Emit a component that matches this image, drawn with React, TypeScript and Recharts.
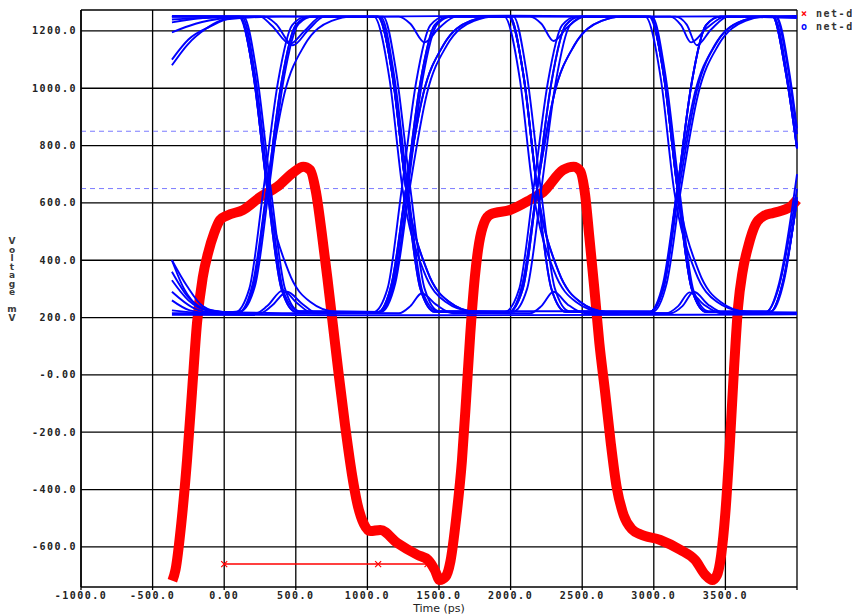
import { LineChart, Line, XAxis, YAxis, CartesianGrid } from 'recharts';

type P = [number, number];

// time ticks (ps) and voltage ticks (mV)
const X_TICKS = [-1000, -500, 0, 500, 1000, 1500, 2000, 2500, 3000, 3500, 4000];
const Y_TICKS = [-600, -400, -200, 0, 200, 400, 600, 800, 1000, 1200];
const THRESHOLDS = [850, 650];

// red trace (net-d...)
const RED: P[] = [
  [-362, -718], [-340, -680], [-300, -520], [-260, -300], [-225, -60], [-190, 180], [-150, 340],
  [-110, 430], [-70, 495], [-30, 540], [20, 556], [130, 575], [250, 620], [370, 656], [480, 705],
  [552, 726], [600, 715], [640, 640], [680, 500], [720, 340], [760, 170], [800, 0], [845, -180],
  [890, -340], [930, -450], [975, -520], [1020, -545], [1090, -541], [1210, -587], [1350, -628],
  [1425, -646], [1470, -680], [1505, -716], [1545, -705], [1580, -650], [1620, -500], [1660, -300],
  [1690, -80], [1718, 140], [1750, 340], [1780, 460], [1815, 530], [1860, 560], [2000, 576],
  [2137, 611], [2228, 638], [2367, 715], [2440, 726], [2485, 712], [2520, 630], [2550, 480],
  [2585, 300], [2620, 110], [2660, -60], [2700, -240], [2740, -390], [2790, -490], [2850, -540],
  [2905, -556], [3045, -576], [3184, -610], [3289, -646], [3360, -698], [3408, -716], [3440, -700],
  [3470, -630], [3500, -480], [3530, -250], [3560, 20], [3589, 240], [3620, 360], [3660, 450],
  [3710, 525], [3770, 555], [3834, 565], [3953, 586], [4000, 611],
];
const RED_MARK: P[] = [[0, -660], [1075, -660], [1420, -660]];

// blue eye segments: F fast fall, f slow fall, R fast rise, r slow rise, D dip at high, B bump at low
const F1: P[] = [[110, 1250], [200, 1060], [300, 650], [400, 300], [500, 220]];
const f1: P[] = [[100, 1250], [210, 1030], [300, 650], [450, 360], [600, 255], [780, 220]];
const R1: P[] = [[100, 218], [200, 300], [300, 650], [400, 1020], [500, 1220], [600, 1250]];
const r1: P[] = [[100, 218], [200, 320], [300, 650], [420, 980], [560, 1150], [750, 1235], [900, 1250]];
const D1: P[] = [[250, 1250], [330, 1220], [460, 1155], [560, 1200], [680, 1250]];
const B1: P[] = [[250, 215], [330, 240], [440, 290], [540, 250], [650, 215]];

const F2: P[] = [[1080, 1250], [1170, 1060], [1270, 650], [1370, 300], [1470, 220]];
const f2: P[] = [[1070, 1250], [1180, 1030], [1270, 650], [1420, 360], [1570, 255], [1750, 220]];
const R2: P[] = [[1070, 218], [1170, 300], [1270, 650], [1370, 1020], [1470, 1220], [1570, 1250]];
const r2: P[] = [[1070, 218], [1170, 320], [1270, 650], [1390, 980], [1530, 1150], [1720, 1235], [1870, 1250]];
const D2: P[] = [[1220, 1250], [1300, 1225], [1400, 1160], [1500, 1210], [1620, 1250]];
const B2: P[] = [[1220, 215], [1300, 240], [1380, 285], [1480, 245], [1600, 215]];

const F3: P[] = [[1995, 1250], [2085, 1060], [2185, 650], [2285, 300], [2385, 220]];
const f3: P[] = [[1985, 1250], [2095, 1030], [2185, 650], [2335, 360], [2485, 255], [2665, 220]];
const R3: P[] = [[1985, 218], [2085, 300], [2185, 650], [2285, 1020], [2385, 1220], [2485, 1250]];
const r3: P[] = [[1985, 218], [2085, 320], [2185, 650], [2305, 980], [2445, 1150], [2635, 1235], [2785, 1250]];
const D3: P[] = [[2135, 1250], [2215, 1225], [2300, 1165], [2400, 1215], [2520, 1250]];
const B3: P[] = [[2135, 215], [2215, 240], [2300, 290], [2400, 245], [2520, 215]];

const F4: P[] = [[2975, 1250], [3065, 1060], [3165, 650], [3265, 300], [3365, 220]];
const f4: P[] = [[2965, 1250], [3075, 1030], [3165, 650], [3315, 360], [3465, 255], [3645, 220]];
const R4: P[] = [[2965, 218], [3065, 300], [3165, 650], [3265, 1020], [3365, 1220], [3465, 1250]];
const r4: P[] = [[2965, 218], [3065, 320], [3165, 650], [3285, 980], [3425, 1150], [3615, 1235], [3765, 1250]];
const D4: P[] = [[3115, 1250], [3190, 1220], [3260, 1160], [3370, 1210], [3500, 1250]];
const B4: P[] = [[3115, 215], [3200, 240], [3280, 290], [3380, 245], [3500, 215]];

const F5: P[] = [[3830, 1250], [3920, 1060], [4000, 790]];
const R5: P[] = [[3810, 218], [3900, 320], [4000, 610]];

const BLUE: P[][] = [
  [[-365, 1195], [-200, 1225], [0, 1245], ...F1, ...r2, ...F3, ...r4, ...F5],
  [[-365, 400], [-280, 300], [-180, 240], [-60, 220], ...R1, ...f2, ...R3, ...f4, ...R5],
  [[-365, 1250], [0, 1250], ...f1, ...R2, ...f3, ...R4, ...F5],
  [[-365, 330], [-250, 260], [-120, 225], ...r1, ...F2, ...r3, ...F4, ...R5],
  [[-365, 1100], [-250, 1170], [-100, 1215], [50, 1245], ...D1, ...F2, ...B3, ...R4, [4000, 1248]],
  [[-365, 290], [-220, 235], [-80, 218], ...B1, ...R2, ...D3, ...F4, [4000, 215]],
  [[-365, 1250], ...F1, ...B2, ...r3, ...D4, ...F5],
  [[-365, 215], ...R1, ...D2, ...f3, ...B4, ...R5],
  [[-365, 1080], [-260, 1150], [-120, 1210], [0, 1240], [400, 1250], ...f2, ...R3, ...F4, [4000, 218]],
  [[-365, 400], [-260, 310], [-150, 240], [-30, 220], [600, 215], ...r2, ...F3, ...R4, [4000, 1245]],
  [[-365, 1252], [1000, 1250], [2000, 1253], [3000, 1250], [4000, 1252]],
  [[-365, 210], [1500, 208], [4000, 211]],
  [[-365, 1240], [125, 1248], [215, 1050], [315, 640], [415, 290], [520, 222], [1085, 220], [1185, 310],
    [1285, 660], [1385, 1030], [1490, 1225], [1590, 1250], [2990, 1248], [3080, 1050], [3180, 640],
    [3280, 290], [3385, 222], [3820, 222], [3910, 330], [4000, 620]],
  [[-365, 225], [-100, 215], [115, 222], [215, 310], [315, 660], [415, 1030], [520, 1225], [620, 1250],
    [1095, 1248], [1185, 1050], [1285, 640], [1385, 290], [1490, 222], [2980, 222], [3080, 330],
    [3180, 660], [3300, 990], [3440, 1160], [3630, 1238], [3780, 1250], [3840, 1248], [3930, 1050],
    [4000, 800]],
  [[-365, 1230], [-150, 1245], [135, 1250], [225, 1060], [325, 650], [425, 300], [525, 222], [1095, 220],
    [1195, 320], [1295, 650], [1415, 980], [1555, 1150], [1745, 1235], [1895, 1250], [2020, 1250],
    [2110, 1060], [2210, 650], [2310, 300], [2410, 222], [2990, 220], [3090, 320], [3190, 650],
    [3310, 980], [3450, 1150], [3640, 1235], [3790, 1250], [3855, 1250], [3945, 1060], [4000, 860]],
  [[-365, 360], [-250, 270], [-130, 228], [75, 218], [175, 300], [275, 650], [375, 1020], [475, 1220],
    [575, 1250], [1045, 1250], [1155, 1030], [1245, 650], [1395, 360], [1545, 255], [1725, 222],
    [1960, 220], [2060, 300], [2160, 650], [2260, 1020], [2360, 1220], [2460, 1250], [2940, 1250],
    [3050, 1030], [3140, 650], [3290, 360], [3440, 255], [3620, 222], [3785, 220], [3875, 320], [4000, 700]],
  [[-365, 1250], [280, 1250], [360, 1225], [480, 1150], [590, 1205], [700, 1250], [1110, 1250],
    [1200, 1060], [1300, 650], [1400, 300], [1500, 222], [2015, 220], [2115, 300], [2215, 650],
    [2315, 1020], [2415, 1220], [2515, 1250], [3150, 1250], [3230, 1222], [3300, 1150], [3400, 1205],
    [3520, 1250], [3850, 1250], [3940, 1060], [4000, 840]],
  [[-365, 260], [-240, 225], [-100, 215], [220, 215], [300, 240], [410, 295], [510, 250], [620, 215],
    [1040, 218], [1140, 300], [1240, 650], [1340, 1020], [1440, 1220], [1540, 1250], [1955, 1250],
    [2065, 1030], [2155, 650], [2305, 360], [2455, 255], [2635, 220], [3085, 215], [3170, 240],
    [3250, 288], [3350, 245], [3470, 215], [3780, 218], [3870, 300], [4000, 650]],
];

const toPts = (a: P[]) => a.map(([t, v]) => ({ t, v }));

const tickFont = {
  fontFamily: '"DejaVu Sans Mono", monospace',
  fontSize: 10,
  fontWeight: 700,
  letterSpacing: 1.5,
  fill: '#222',
};

const fmtY = (v: number) => (v === 0 ? '-0.00' : v.toFixed(1));
const fmtX = (v: number) => (v === 4000 ? '' : v === 0 ? '0.00' : v.toFixed(1));

function CrossDot(props: any) {
  const { cx, cy } = props;
  if (cx == null || cy == null) return null;
  return (
    <path
      d={`M${cx - 3},${cy - 3}L${cx + 3},${cy + 3}M${cx + 3},${cy - 3}L${cx - 3},${cy + 3}`}
      stroke="#ff0000"
      strokeWidth={1.2}
    />
  );
}

export default function App() {
  const title = 'Voltage mV'.split('');
  return (
    <div style={{ position: 'absolute', left: 0, top: 0, width: 852, height: 615, overflow: 'hidden', background: '#fff' }}>
      <LineChart width={852} height={615} margin={{ top: 10, right: 55, bottom: 0, left: 0 }}>
        <CartesianGrid stroke="#000" strokeWidth={1.3} />
        <XAxis
          dataKey="t"
          type="number"
          domain={[-1000, 4000]}
          ticks={X_TICKS}
          tickFormatter={fmtX}
          allowDuplicatedCategory={false}
          axisLine={false}
          tickLine={{ stroke: '#000', strokeWidth: 1.3 }}
          tickSize={3}
          tickMargin={2}
          height={28}
          tick={tickFont}
          label={{
            value: 'Time (ps)',
            position: 'insideBottom',
            offset: 3,
            style: { fontFamily: '"DejaVu Sans", sans-serif', fontSize: 11, fill: '#222' },
          }}
        />
        <YAxis
          dataKey="v"
          type="number"
          domain={[-740, 1273]}
          ticks={Y_TICKS}
          tickFormatter={fmtY}
          width={81}
          axisLine={{ stroke: '#000', strokeWidth: 1.5 }}
          tickLine={false}
          tickSize={0}
          tickMargin={4}
          tick={tickFont}
        />
        {THRESHOLDS.map((y) => (
          <Line
            key={'th' + y}
            data={toPts([[-1000, y], [4000, y]])}
            dataKey="v"
            stroke="#7b7bff"
            strokeWidth={1}
            strokeDasharray="5 4"
            dot={false}
            activeDot={false}
            isAnimationActive={false}
          />
        ))}
        <Line
          data={toPts(RED)}
          dataKey="v"
          type="monotone"
          stroke="#ff0000"
          strokeWidth={10}
          strokeLinejoin="round"
          dot={false}
          activeDot={false}
          isAnimationActive={false}
        />
        <Line
          data={toPts(RED_MARK)}
          dataKey="v"
          stroke="#ff0000"
          strokeWidth={1.5}
          dot={<CrossDot />}
          activeDot={false}
          isAnimationActive={false}
        />
        {BLUE.map((tr, i) => (
          <Line
            key={'b' + i}
            data={toPts(tr)}
            dataKey="v"
            type="monotone"
            stroke="#0000ff"
            strokeWidth={1.9}
            dot={false}
            activeDot={false}
            isAnimationActive={false}
          />
        ))}
      </LineChart>

      <div
        style={{
          position: 'absolute',
          left: 6,
          top: 237,
          width: 12,
          fontFamily: '"DejaVu Sans", sans-serif',
          fontSize: 9,
          fontWeight: 700,
          lineHeight: '8.5px',
          color: '#3a3a3a',
          textAlign: 'center',
        }}
      >
        {title.map((c, i) => (
          <div key={i} style={{ height: 8.5 }}>{c === ' ' ? '\u00a0' : c}</div>
        ))}
      </div>

      <div
        style={{
          position: 'absolute',
          left: 801,
          top: 7,
          fontFamily: '"DejaVu Sans Mono", monospace',
          fontSize: 10,
          fontWeight: 700,
          letterSpacing: 1.5,
          color: '#333',
          lineHeight: '13px',
          whiteSpace: 'nowrap',
        }}
      >
        <div><span style={{ color: '#ff0000' }}>×</span> net-data_p</div>
        <div><span style={{ color: '#0000ff' }}>o</span> net-data_n</div>
      </div>
    </div>
  );
}
